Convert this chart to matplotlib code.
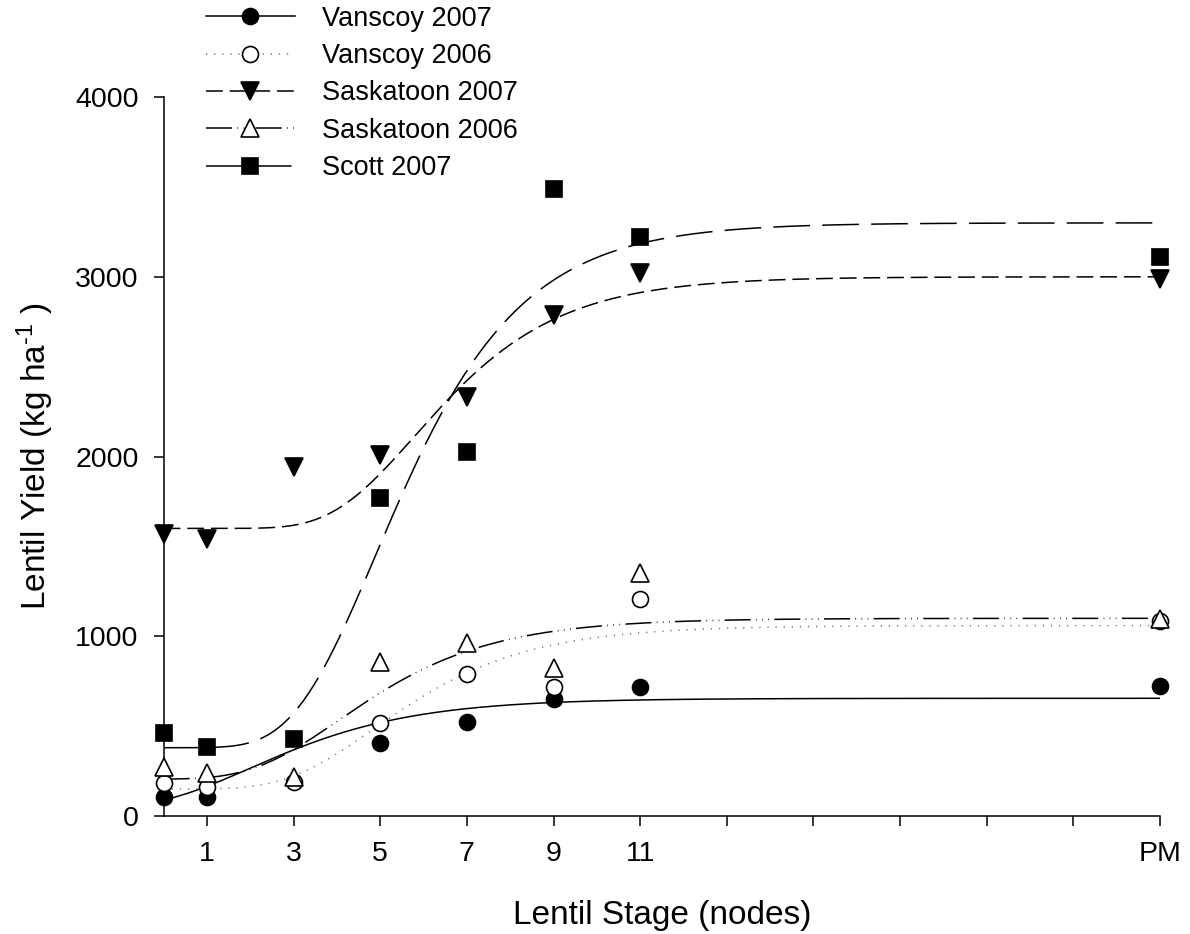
import numpy as np
import matplotlib
matplotlib.use('Agg')
import matplotlib.pyplot as plt
from matplotlib.lines import Line2D

plt.rcParams['font.family'] = ['Liberation Sans', 'DejaVu Sans']
plt.rcParams['mathtext.fontset'] = 'custom'
plt.rcParams['mathtext.rm'] = 'Liberation Sans'
plt.rcParams['mathtext.it'] = 'Liberation Sans'

# lentil stage (nodes); PM plotted at 23
stage = [0, 1, 3, 5, 7, 9, 11, 23]
tick_pos = [1, 3, 5, 7, 9, 11, 13, 15, 17, 19, 21, 23]
tick_labels = ['1', '3', '5', '7', '9', '11', '', '', '', '', '', 'PM']
y_ticks = [0, 1000, 2000, 3000, 4000]

series_names = ['Vanscoy 2007', 'Vanscoy 2006', 'Saskatoon 2007', 'Saskatoon 2006', 'Scott 2007']

# yield (kg/ha)
vanscoy_2007 = [105, 105, np.nan, 405, 522, 650, 718, 722]
vanscoy_2006 = [185, 161, 190, 516, 789, 718, 1205, 1085]
saskatoon_2007 = [1567, 1542, 1944, 2011, 2329, 2789, 3020, 2989]
saskatoon_2006 = [273, 237, 216, 857, 963, 822, 1350, 1094]
scott_2007 = [462, 385, 428, 1767, 2024, 3490, 3224, 3111]

# gompertz fit parameters: y0, a, x0, b
vanscoy_2007_fit = [40, 615, 2.0, 2.15]
vanscoy_2006_fit = [150, 910, 4.85, 2.0]
saskatoon_2007_fit = [1600, 1400, 5.8, 1.9]
saskatoon_2006_fit = [205, 895, 4.05, 2.0]
scott_2007_fit = [380, 2920, 4.9, 1.9]


def gompertz(x, p):
    y0, a, x0, b = p
    return y0 + a * np.exp(-np.exp(-(x - x0) / b))


lw = 1.1
styles = [
    dict(marker='o', mfc='black', ls='-', color='black'),
    dict(marker='o', mfc='white', ls=(0, (0.8, 4.5)), color='0.45'),
    dict(marker='v', mfc='black', ls=(0, (11, 4.5)), color='black'),
    dict(marker='^', mfc='white', ls=(0, (17, 3.5, 0.5, 3.5, 0.5, 3.5, 0.5, 3.5)), color='black'),
    dict(marker='s', mfc='black', ls=(0, (24, 8)), color='black'),
]
msizes = [11.5, 11.5, 12.5, 12.5, 11.5]
data = [vanscoy_2007, vanscoy_2006, saskatoon_2007, saskatoon_2006, scott_2007]
fits = [vanscoy_2007_fit, vanscoy_2006_fit, saskatoon_2007_fit, saskatoon_2006_fit, scott_2007_fit]

fig = plt.figure(figsize=(11.9, 9.34), dpi=100)
ax = fig.add_axes([0.1375, 0.1263, 0.8373, 0.7698])

xs = np.linspace(0, 23, 400)
handles = []
for name, vals, p, st, ms in zip(series_names, data, fits, styles, msizes):
    ax.plot(xs, gompertz(xs, p), color=st['color'], ls=st['ls'], lw=lw, zorder=2)
    ax.plot(stage, vals, ls='none', marker=st['marker'], ms=ms, mfc=st['mfc'],
            mec='black', mew=1.2, clip_on=False, zorder=3)
    handles.append(Line2D([], [], color=st['color'], ls=st['ls'], lw=lw,
                          marker=st['marker'], ms=ms, mfc=st['mfc'], mec='black', mew=1.2))

ax.set_xlim(0, 23)
ax.set_ylim(0, 4000)
ax.set_xticks(tick_pos)
ax.set_xticklabels(tick_labels)
ax.set_yticks(y_ticks)
for s in ['top', 'right']:
    ax.spines[s].set_visible(False)
for s in ['left', 'bottom']:
    ax.spines[s].set_linewidth(1.1)
ax.tick_params(direction='out', length=7, width=1.1, labelsize=20.5, pad=11)

ax.set_xlabel('Lentil Stage (nodes)', fontsize=24, labelpad=24)
ax.set_ylabel('Lentil Yield (kg ha$^{\\text{-1}}$ )', fontsize=24, labelpad=14)

fig.legend(handles, series_names, loc='upper left', bbox_to_anchor=(203 / 1190, 1 - 3 / 934),
           frameon=False, fontsize=19.5, handlelength=3.3, handletextpad=1.0,
           labelspacing=0.42, borderpad=0.1, borderaxespad=0)

fig.savefig('out.png', dpi=100)
